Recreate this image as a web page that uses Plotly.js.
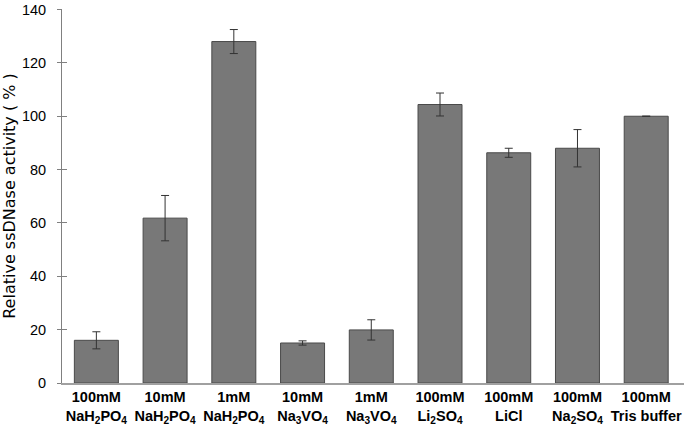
<!DOCTYPE html>
<html>
<head>
<meta charset="utf-8">
<script src="https://cdn.plot.ly/plotly-3.0.1.min.js"></script>
<style>html,body{margin:0;padding:0;background:#fff;}#chart{width:688px;height:427px;}</style>
</head>
<body>
<div id="chart"></div>
<script>
var categories = [
  "100mM<br>NaH<sub>2</sub>PO<sub>4</sub>",
  "10mM<br>NaH<sub>2</sub>PO<sub>4</sub>",
  "1mM<br>NaH<sub>2</sub>PO<sub>4</sub>",
  "10mM<br>Na<sub>3</sub>VO<sub>4</sub>",
  "1mM<br>Na<sub>3</sub>VO<sub>4</sub>",
  "100mM<br>Li<sub>2</sub>SO<sub>4</sub>",
  "100mM<br>LiCl",
  "100mM<br>Na<sub>2</sub>SO<sub>4</sub>",
  "100mM<br>Tris buffer"
];
var activity = [16, 61.8, 128, 15, 19.9, 104.4, 86.3, 88, 100];
var errors = [3.2, 8.5, 4.5, 0.8, 3.8, 4.3, 1.7, 7, null];
var yTicks = [0, 20, 40, 60, 80, 100, 120, 140];

var xIdx = categories.map(function(c, i){ return i; });

var trace = {
  type: 'bar',
  x: xIdx,
  y: activity,
  marker: {color: '#787878', line: {color: '#4a4a4a', width: 1}},
  error_y: {type: 'data', array: errors, visible: true, color: '#333333', thickness: 1, width: 4},
  width: 0.64,
  hoverinfo: 'none'
};
var ghost = {
  type: 'scatter', mode: 'none', x: [0], y: [0], yaxis: 'y2', hoverinfo: 'none', showlegend: false
};

var layout = {
  width: 688, height: 427,
  margin: {l: 62, r: 4, t: 9, b: 44},
  paper_bgcolor: '#ffffff', plot_bgcolor: '#ffffff',
  showlegend: false,
  font: {family: 'Liberation Sans, Arial, sans-serif', color: '#000'},
  xaxis: {
    range: [-0.5, 8.55],
    tickmode: 'array',
    tickvals: xIdx,
    ticktext: categories.map(function(c){ return '<b>' + c.replace('<br>', '</b><br><b>') + '</b>'; }),
    tickfont: {size: 14.5, family: 'Liberation Sans, Arial, sans-serif', color: '#000'},
    showline: true, linecolor: '#a0a0a0', linewidth: 1.5,
    ticks: '', showgrid: false, zeroline: false, fixedrange: true
  },
  yaxis: {
    range: [0, 140.2],
    tickmode: 'array', tickvals: yTicks, ticktext: yTicks.map(String),
    tickfont: {size: 14.5, color: '#000'},
    showline: true, linecolor: '#808080', linewidth: 1,
    ticks: 'outside', ticklen: 4, tickcolor: '#808080',
    ticklabelstandoff: 8,
    showgrid: false, zeroline: false,
    title: {text: 'Relative ssDNase activity ( % )', font: {size: 16, family: 'DejaVu Sans, sans-serif', color: '#000'}, standoff: 6}
  },
  yaxis2: {
    overlaying: 'y', side: 'left', anchor: 'x',
    range: [0, 140.2],
    tickmode: 'array', tickvals: yTicks,
    showticklabels: false,
    ticks: 'inside', ticklen: 5, tickcolor: '#808080',
    showline: false, showgrid: false, zeroline: false
  }
};

Plotly.newPlot('chart', [trace, ghost], layout, {displayModeBar: false, staticPlot: true});
</script>
</body>
</html>
